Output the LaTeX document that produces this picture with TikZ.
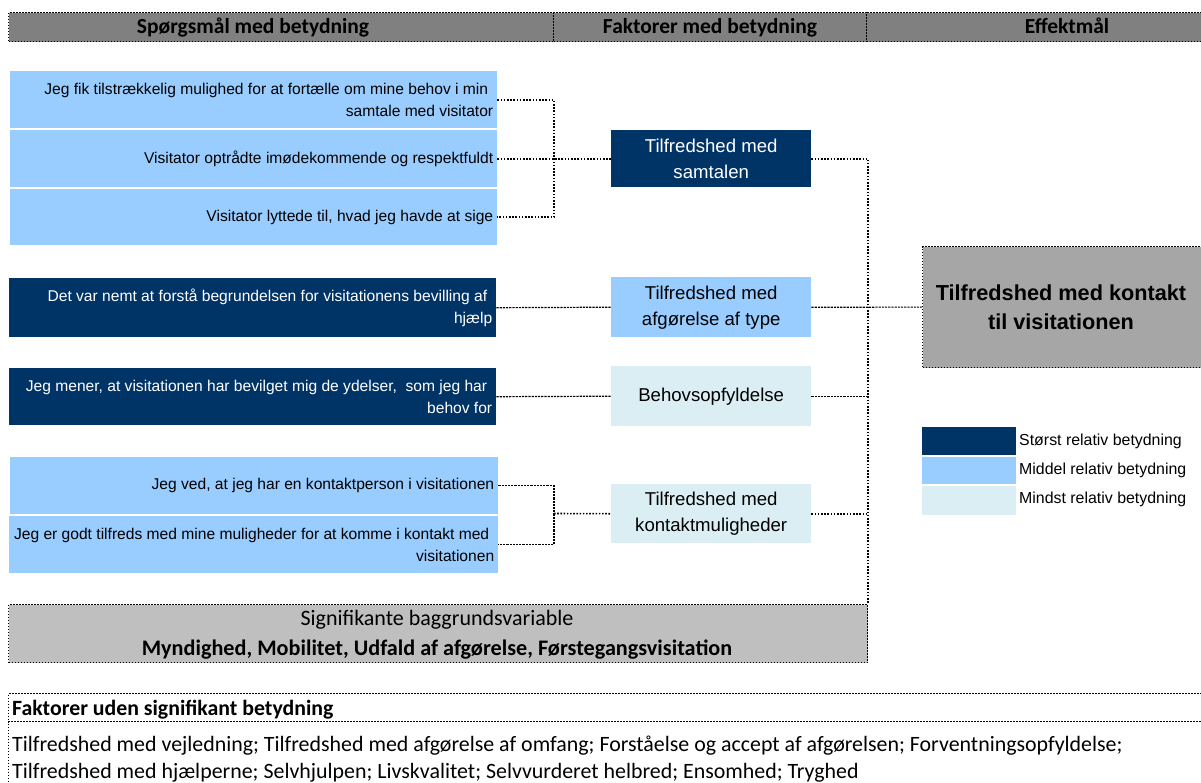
\documentclass[tikz,border=0pt]{standalone}
\usepackage{fontspec}
\setmainfont{Liberation Sans}
\newfontfamily\calfont{Carlito}
\definecolor{dark}{RGB}{0,51,102}
\definecolor{mid}{RGB}{153,204,255}
\definecolor{pale}{RGB}{218,238,243}
\definecolor{hgray}{RGB}{128,128,128}
\definecolor{sgray}{RGB}{191,191,191}
\definecolor{tgray}{RGB}{166,166,166}
\begin{document}
\begin{tikzpicture}[x=1pt,y=-1pt,
  brd/.style={draw=black, line width=1.2pt, dash pattern=on 1.5pt off 1.5pt},
  hdr/.style={brd, fill=hgray, anchor=north west, minimum height=29pt, inner sep=0pt},
  htext/.style={anchor=base, inner sep=0pt, font=\calfont\bfseries\fontsize{21.5}{24}\selectfont},
  qbox/.style={anchor=north west, inner sep=0pt},
  qtext/.style={anchor=east, align=right, inner xsep=4pt, inner ysep=0pt, font=\fontsize{15.6}{22}\selectfont},
  fbox/.style={anchor=north west, minimum width=200pt, inner sep=0pt, align=center, font=\fontsize{18.6}{26}\selectfont},
  legtext/.style={anchor=west, inner sep=0pt, font=\fontsize{15.9}{18}\selectfont},
  conn/.style={line width=1.6pt, dash pattern=on 1.6pt off 1.6pt},
  thinconn/.style={line width=1.2pt, dash pattern=on 2.2pt off 1pt},
]
\useasboundingbox (0,0) rectangle (1201,782);
\clip (0,0) rectangle (1201,782);

% header
\node[hdr, minimum width=545pt] (h1) at (8,12) {};
\node[hdr, minimum width=313pt] (h2) at (553,12) {};
\node[hdr, minimum width=360pt] (h3) at (866,12) {};
\node[htext] (h1t) at (253,33) {Spørgsmål med betydning};
\node[htext] (h2t) at (710,33) {Faktorer med betydning};
\node[htext] (h3t) at (1067,33) {Effektmål};

% question boxes
\node[qbox, fill=mid, minimum width=487pt, minimum height=57pt] (q1) at (10,71) {};
\node[qbox, fill=mid, minimum width=487pt, minimum height=57pt] (q2) at (10,130) {};
\node[qbox, fill=mid, minimum width=487pt, minimum height=56pt] (q3) at (10,189) {};
\node[qbox, fill=dark, minimum width=487pt, minimum height=59pt] (q4) at (9,278) {};
\node[qbox, fill=dark, minimum width=487pt, minimum height=57pt] (q5) at (9,368) {};
\node[qbox, fill=mid, minimum width=488pt, minimum height=57pt] (q6) at (10,457) {};
\node[qbox, fill=mid, minimum width=489pt, minimum height=57pt] (q7) at (9,516) {};

\node[qtext] (q1t) at (q1.east) {Jeg fik tilstrækkelig mulighed for at fortælle om mine behov i min\hspace*{5pt}\\samtale med visitator};
\node[qtext] (q2t) at (q2.east) {Visitator optrådte imødekommende og respektfuldt};
\node[qtext] (q3t) at (q3.east) {Visitator lyttede til, hvad jeg havde at sige};
\node[qtext, text=white] (q4t) at (q4.east) {Det var nemt at forstå begrundelsen for visitationens bevilling af\hspace*{5pt}\\hjælp};
\node[qtext, text=white] (q5t) at (q5.east) {Jeg mener, at visitationen har bevilget mig de ydelser,\ \ som jeg har\hspace*{5pt}\\behov for};
\node[qtext] (q6t) at (q6.east) {Jeg ved, at jeg har en kontaktperson i visitationen};
\node[qtext] (q7t) at (q7.east) {Jeg er godt tilfreds med mine muligheder for at komme i kontakt med\hspace*{5pt}\\visitationen};

% factor boxes
\node[fbox, fill=dark, text=white, minimum height=57pt] (fA) at (611,130) {Tilfredshed med\\samtalen};
\node[fbox, fill=mid, minimum height=60pt] (fB) at (611,277) {Tilfredshed med\\afgørelse af type};
\node[fbox, fill=pale, minimum height=60pt] (fC) at (611,366) {Behovsopfyldelse};
\node[fbox, fill=pale, minimum height=59pt] (fD) at (611,484) {Tilfredshed med\\kontaktmuligheder};

% significant background variables
\node[brd, fill=sgray, anchor=north west, minimum width=859pt, minimum height=58pt, inner sep=0pt] (sig) at (8,604) {};
\node[font=\calfont\fontsize{22}{24}\selectfont, inner sep=0pt] (sig1) at (437,620) {Signifikante baggrundsvariable};
\node[font=\calfont\bfseries\fontsize{22.2}{24}\selectfont, inner sep=0pt] (sig2) at (437,650) {Myndighed, Mobilitet, Udfald af afgørelse, Førstegangsvisitation};

% target
\node[brd, fill=tgray, anchor=north west, minimum width=300pt, minimum height=121pt, inner sep=0pt] (tg) at (922,246) {};
\node[align=center, inner sep=0pt, font=\bfseries\fontsize{21.7}{29}\selectfont] (tgt) at (1061,307) {Tilfredshed med kontakt\\til visitationen};

% connectors
\coordinate (j1) at (554,158.5);
\coordinate (j3) at (554,513.5);
\draw[conn] (q1.east) -| (j1) |- (q3.east);
\draw[conn] (q2.east) -- (fA.west);
\draw[thinconn] (q4.east) -- (fB.west);
\draw[thinconn] (q5.east) -- (fC.west);
\draw[thinconn] (q6.east) -| (j3) |- (q7.east);
\draw[conn] (j3) -- (fD.west);
\draw[conn] (fA.east) -| (sig.north east);
\draw[thinconn] (fB.east) -- (tg.west);
\draw[thinconn] (fC.east) -- (fC.east -| sig.east);
\draw[conn] (fD.east) -- (fD.east -| sig.east);

% legend
\node[qbox, fill=dark, minimum width=94pt, minimum height=28pt] (l1) at (922,427) {};
\node[qbox, fill=mid, minimum width=94pt, minimum height=27pt] (l2) at (922,457) {};
\node[qbox, fill=pale, minimum width=94pt, minimum height=29pt] (l3) at (922,486) {};
\node[legtext] (l1t) at (1019,441) {Størst relativ betydning};
\node[legtext] (l2t) at (1019,470) {Middel relativ betydning};
\node[legtext] (l3t) at (1019,499) {Mindst relativ betydning};

% factors without significance
\node[brd, anchor=north west, minimum width=1220pt, minimum height=28pt, inner sep=0pt] (nh) at (8,693) {};
\node[brd, anchor=north west, minimum width=1220pt, minimum height=90pt, inner sep=0pt] (nb) at (8,721) {};
\node[anchor=base west, inner sep=0pt, font=\calfont\bfseries\fontsize{21.8}{24}\selectfont] (nht) at (12,715) {Faktorer uden signifikant betydning};
\node[anchor=base west, inner sep=0pt, font=\calfont\fontsize{21.9}{24}\selectfont] (nb1) at (12,751) {Tilfredshed med vejledning; Tilfredshed med afgørelse af omfang; Forståelse og accept af afgørelsen; Forventningsopfyldelse;};
\node[anchor=base west, inner sep=0pt, font=\calfont\fontsize{21.9}{24}\selectfont] (nb2) at (12,778) {Tilfredshed med hjælperne; Selvhjulpen; Livskvalitet; Selvvurderet helbred; Ensomhed; Tryghed};
\end{tikzpicture}
\end{document}
